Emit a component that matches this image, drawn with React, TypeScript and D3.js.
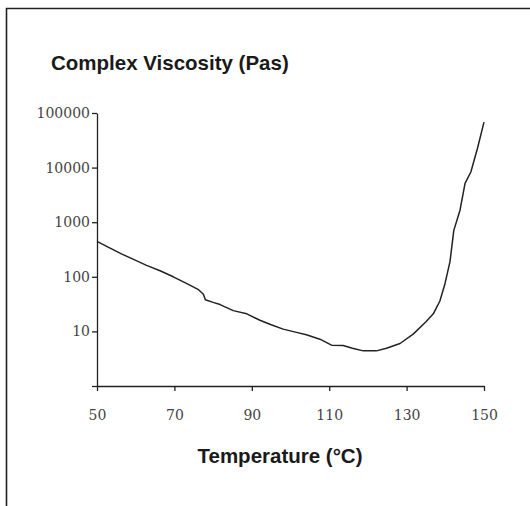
import React, { useEffect, useRef } from 'react';
import * as d3 from 'd3';

// Temperature (°C) and complex viscosity (Pa·s)
const temperature = [
  50, 53, 56.3, 60, 62.8, 66.3, 69.7, 73.1, 76.1, 77.5, 78, 80, 81.8, 85.2, 88.7,
  92.1, 95, 98.1, 101, 104.1, 107.6, 110.6, 113.6, 116, 118.8, 122.2, 124.8, 128.3,
  131.7, 135, 136.9, 138.6, 139.9, 141.2, 142.2, 143.8, 145.1, 146.6, 148.3, 150,
];
const viscosity = [
  447, 347, 263, 200, 162, 129, 100, 76, 59, 48, 38, 34, 31, 24, 21,
  16, 13.2, 11, 9.8, 8.7, 7.2, 5.6, 5.5, 4.9, 4.4, 4.4, 4.9, 6.0,
  8.9, 15, 21, 36, 74, 187, 708, 1660, 5130, 8300, 22400, 68000,
];

const xTicks = [50, 70, 90, 110, 130, 150];
const yTicks = [1, 10, 100, 1000, 10000, 100000];

const W = 530;
const H = 506;

const App: React.FC = () => {
  const svgRef = useRef<SVGSVGElement>(null);

  useEffect(() => {
    if (!svgRef.current) return;
    const svg = d3.select(svgRef.current);
    svg.selectAll('*').remove();

    const x = d3.scaleLinear().domain([50, 150]).range([97, 484]);
    const y = d3.scaleLog().domain([1, 100000]).range([386, 113]);

    // frame (only top and left edges show)
    svg.append('path')
      .attr('d', `M6.5,${H} L6.5,8.5 L${W},8.5`)
      .attr('fill', 'none')
      .attr('stroke', '#222')
      .attr('stroke-width', 1.6);

    svg.append('text')
      .attr('x', 51)
      .attr('y', 70)
      .attr('font-family', '"Liberation Sans", Arial, sans-serif')
      .attr('font-weight', 'bold')
      .attr('font-size', 20.5)
      .attr('fill', '#1a1a1a')
      .text('Complex Viscosity (Pas)');

    const xAxis = svg.append('g')
      .attr('transform', `translate(0,${y(1)})`)
      .call(d3.axisBottom(x).tickValues(xTicks).tickSize(5).tickPadding(19).tickSizeOuter(0));

    const yAxis = svg.append('g')
      .attr('transform', `translate(${x(50)},0)`)
      .call(
        d3.axisLeft(y)
          .tickValues(yTicks)
          .tickSize(5)
          .tickPadding(2)
          .tickSizeOuter(0)
          .tickFormat(d => (+d === 1 ? '' : String(d)))
      );

    [xAxis, yAxis].forEach(g => {
      g.select('.domain').attr('stroke', '#222').attr('stroke-width', 1.3);
      g.selectAll('.tick line').attr('stroke', '#222').attr('stroke-width', 1.3);
      g.selectAll('.tick text')
        .attr('font-family', '"DejaVu Serif", serif')
        .attr('font-size', 14)
        .attr('fill', '#444');
    });

    const line = d3.line<number>()
      .x((_, i) => x(temperature[i]))
      .y(d => y(d));

    svg.append('path')
      .datum(viscosity)
      .attr('d', line)
      .attr('fill', 'none')
      .attr('stroke', '#222')
      .attr('stroke-width', 1.5)
      .attr('stroke-linejoin', 'round');

    svg.append('text')
      .attr('x', 280)
      .attr('y', 463)
      .attr('text-anchor', 'middle')
      .attr('font-family', '"Liberation Sans", Arial, sans-serif')
      .attr('font-weight', 'bold')
      .attr('font-size', 20.5)
      .attr('fill', '#1a1a1a')
      .text('Temperature (°C)');
  }, []);

  return (
    <svg
      ref={svgRef}
      width={W}
      height={H}
      style={{ position: 'absolute', left: 0, top: 0, background: '#fff' }}
    />
  );
};

export default App;
